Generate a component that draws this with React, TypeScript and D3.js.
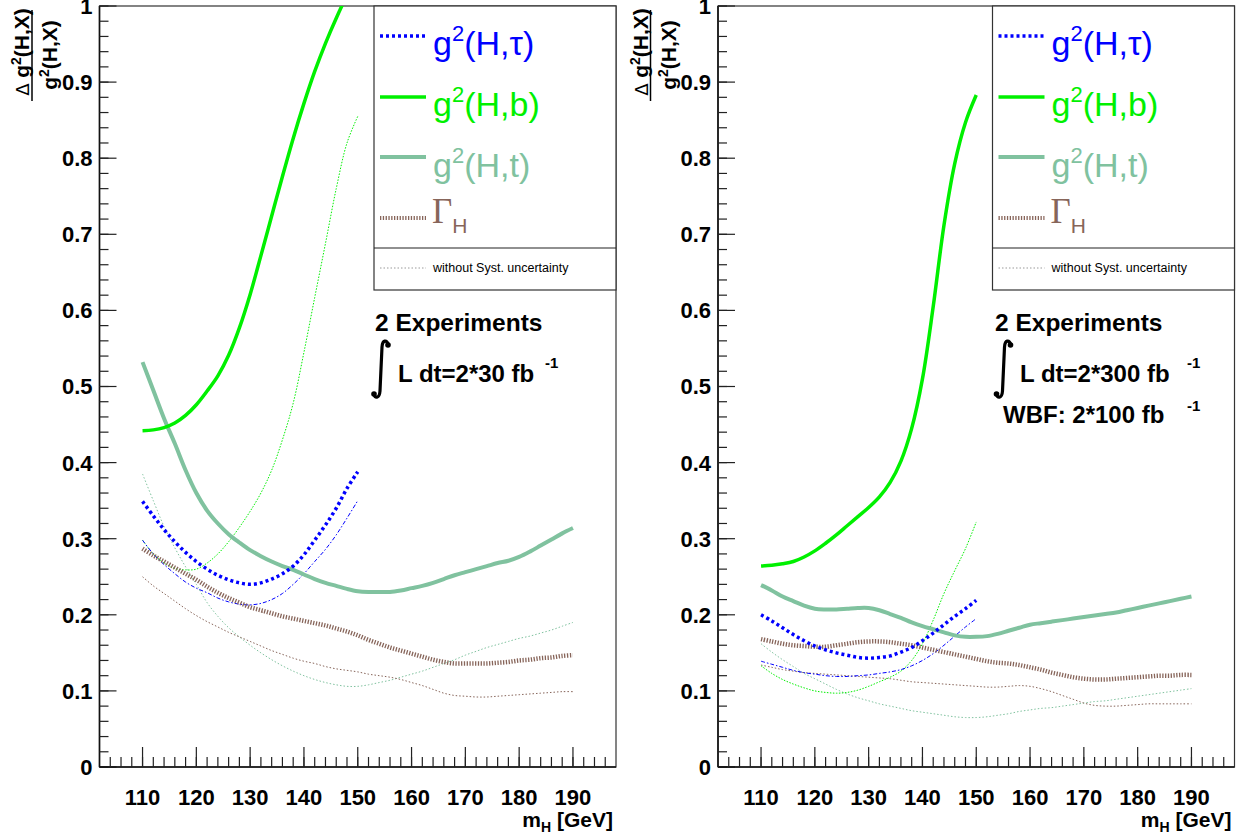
import React from "react";
import * as d3 from "d3";

// ---------- data ----------
const MASS_SHORT = [110, 112, 114, 116, 118, 120, 122, 124, 126, 128, 130, 132, 134, 136, 138, 140, 142, 144, 146, 148, 150];
const MASS_LONG = [110, 112, 114, 116, 118, 120, 122, 124, 126, 128, 130, 132, 134, 136, 138, 140, 142, 144, 146, 148, 150,
  152, 154, 156, 158, 160, 162, 164, 166, 168, 170, 172, 174, 176, 178, 180, 182, 184, 186, 188, 190];

// Left panel: 2 x 30 fb^-1
const L_TAU = [0.349, 0.33, 0.312, 0.296, 0.282, 0.27, 0.26, 0.252, 0.246, 0.242, 0.24, 0.242, 0.247, 0.254, 0.264, 0.279, 0.298, 0.318, 0.34, 0.366, 0.388];
const L_TAU_NOSYS = [0.298, 0.28, 0.266, 0.254, 0.243, 0.235, 0.229, 0.222, 0.217, 0.214, 0.213, 0.215, 0.22, 0.228, 0.24, 0.254, 0.27, 0.286, 0.305, 0.327, 0.35];
const L_B = [0.442, 0.443, 0.446, 0.452, 0.462, 0.476, 0.494, 0.514, 0.541, 0.577, 0.621, 0.672, 0.724, 0.776, 0.826, 0.872, 0.914, 0.951, 0.984, 1.014, 1.04];
const L_B_NOSYS = [0.298, 0.28, 0.268, 0.261, 0.259, 0.26, 0.268, 0.28, 0.296, 0.315, 0.336, 0.36, 0.39, 0.43, 0.478, 0.545, 0.617, 0.688, 0.76, 0.82, 0.855];
const L_T = [0.532, 0.495, 0.458, 0.425, 0.39, 0.36, 0.337, 0.32, 0.306, 0.295, 0.285, 0.277, 0.27, 0.264, 0.259, 0.253, 0.247, 0.242, 0.238, 0.234, 0.231,
  0.23, 0.23, 0.23, 0.232, 0.235, 0.238, 0.242, 0.247, 0.252, 0.256, 0.26, 0.264, 0.268, 0.271, 0.276, 0.283, 0.291, 0.299, 0.307, 0.314];
const L_T_NOSYS = [0.385, 0.35, 0.316, 0.288, 0.263, 0.24, 0.216, 0.198, 0.183, 0.171, 0.16, 0.15, 0.141, 0.133, 0.126, 0.12, 0.115, 0.111, 0.108, 0.106, 0.106,
  0.108, 0.111, 0.114, 0.118, 0.122, 0.126, 0.131, 0.136, 0.141, 0.147, 0.152, 0.157, 0.161, 0.165, 0.169, 0.172, 0.176, 0.18, 0.185, 0.19];
const L_GAMMA = [0.287, 0.278, 0.27, 0.262, 0.254, 0.246, 0.237, 0.229, 0.222, 0.216, 0.21, 0.206, 0.202, 0.198, 0.195, 0.192, 0.189, 0.186, 0.182, 0.178, 0.173,
  0.167, 0.162, 0.157, 0.153, 0.149, 0.145, 0.141, 0.138, 0.136, 0.136, 0.136, 0.136, 0.137, 0.138, 0.14, 0.141, 0.143, 0.144, 0.146, 0.147];
const L_GAMMA_NOSYS = [0.25, 0.238, 0.228, 0.218, 0.208, 0.199, 0.191, 0.184, 0.177, 0.171, 0.165, 0.159, 0.153, 0.148, 0.143, 0.139, 0.136, 0.132, 0.129, 0.127, 0.125,
  0.122, 0.12, 0.118, 0.115, 0.111, 0.107, 0.102, 0.097, 0.094, 0.093, 0.092, 0.092, 0.093, 0.094, 0.095, 0.096, 0.097, 0.098, 0.099, 0.099];

// Right panel: 2 x 300 fb^-1 (WBF 2 x 100 fb^-1)
const R_TAU = [0.2, 0.192, 0.183, 0.174, 0.166, 0.159, 0.154, 0.15, 0.147, 0.144, 0.143, 0.144, 0.146, 0.151, 0.157, 0.166, 0.176, 0.187, 0.198, 0.208, 0.219];
const R_TAU_NOSYS = [0.139, 0.135, 0.131, 0.127, 0.124, 0.122, 0.12, 0.119, 0.119, 0.12, 0.121, 0.123, 0.125, 0.128, 0.133, 0.14, 0.149, 0.16, 0.172, 0.184, 0.195];
const R_B = [0.264, 0.265, 0.267, 0.27, 0.276, 0.284, 0.294, 0.305, 0.317, 0.329, 0.341, 0.355, 0.374, 0.402, 0.445, 0.51, 0.605, 0.712, 0.793, 0.847, 0.883];
const R_B_NOSYS = [0.133, 0.123, 0.115, 0.109, 0.104, 0.1, 0.098, 0.097, 0.098, 0.101, 0.106, 0.112, 0.118, 0.126, 0.14, 0.162, 0.193, 0.228, 0.258, 0.287, 0.322];
const R_T = [0.239, 0.232, 0.224, 0.218, 0.212, 0.208, 0.207, 0.207, 0.208, 0.209, 0.209, 0.206, 0.201, 0.196, 0.19, 0.185, 0.181, 0.177, 0.173, 0.171, 0.171,
  0.172, 0.175, 0.179, 0.183, 0.187, 0.189, 0.191, 0.193, 0.195, 0.197, 0.199, 0.201, 0.203, 0.206, 0.209, 0.212, 0.215, 0.218, 0.221, 0.224];
const R_T_NOSYS = [0.162, 0.151, 0.141, 0.132, 0.123, 0.116, 0.109, 0.102, 0.096, 0.091, 0.087, 0.083, 0.08, 0.077, 0.074, 0.072, 0.07, 0.068, 0.066, 0.065, 0.065,
  0.066, 0.068, 0.07, 0.073, 0.075, 0.077, 0.078, 0.08, 0.082, 0.084, 0.086, 0.087, 0.089, 0.091, 0.093, 0.095, 0.097, 0.099, 0.101, 0.103];
const R_GAMMA = [0.168, 0.165, 0.162, 0.16, 0.159, 0.158, 0.158, 0.16, 0.162, 0.164, 0.165, 0.165, 0.164, 0.162, 0.16, 0.157, 0.154, 0.151, 0.148, 0.145, 0.142,
  0.139, 0.137, 0.136, 0.134, 0.131, 0.128, 0.124, 0.121, 0.118, 0.116, 0.115, 0.115, 0.116, 0.117, 0.118, 0.119, 0.12, 0.12, 0.121, 0.121];
const R_GAMMA_NOSYS = [0.134, 0.131, 0.128, 0.126, 0.124, 0.123, 0.122, 0.121, 0.12, 0.119, 0.118, 0.117, 0.116, 0.114, 0.112, 0.111, 0.11, 0.109, 0.108, 0.107, 0.106,
  0.105, 0.105, 0.106, 0.107, 0.106, 0.103, 0.099, 0.094, 0.089, 0.084, 0.081, 0.08, 0.08, 0.081, 0.082, 0.083, 0.083, 0.083, 0.083, 0.083];

const X_TICK_LABELS = [110, 120, 130, 140, 150, 160, 170, 180, 190];
const Y_TICK_LABELS = ["0", "0.1", "0.2", "0.3", "0.4", "0.5", "0.6", "0.7", "0.8", "0.9", "1"];

// ---------- style ----------
const BLUE = "#0000ff";
const GREEN = "#00f000";
const TEAL = "#80c29f";
const BROWN = "#87655a";
const SANS = "'Liberation Sans', Arial, Helvetica, sans-serif";
const SERIF = "'Liberation Serif', 'Times New Roman', serif";

const TOP = 6;
const BOTTOM = 767;
const PANEL_W = 516.5;

type Series = { mass: number[]; vals: number[]; color: string; width: number; dash?: string };

function Panel(props: { x0: number; id: string; series: Series[]; lumi: string[]; wbf?: boolean }) {
  const { x0, id, series } = props;
  const x1 = x0 + PANEL_W;
  const xs = d3.scaleLinear().domain([102, 198]).range([x0, x1]);
  const ys = d3.scaleLinear().domain([0, 1]).range([BOTTOM, TOP]);
  const line = d3
    .line<[number, number]>()
    .x((d) => xs(d[0]))
    .y((d) => ys(d[1]))
    .curve(d3.curveCatmullRom.alpha(0.5));

  const yMinor = d3.range(0, 1.0001, 0.02);
  const yMajor = d3.range(0, 1.0001, 0.1);
  const xMinor = d3.range(104, 197, 2);
  const off = x0 - 99.5;

  // legend geometry
  const lx = x0 + 274.5;
  const lineX0 = lx + 6;
  const lineX1 = lx + 52;
  const textX = lx + 59;
  const legendRows = [36, 97, 157, 218];

  const integral = (ix: number, iy: number) => (
    <g>
      <path
        d={`M ${ix + 13} ${iy + 4} C ${ix + 11} ${iy - 2}, ${ix + 7} ${iy - 1}, ${ix + 6.5} ${iy + 6} L ${ix + 4.5} ${iy + 50} C ${ix + 4} ${iy + 57}, ${ix} ${iy + 58}, ${ix - 2} ${iy + 53}`}
        fill="none"
        stroke="#000"
        strokeWidth={3.2}
      />
      <circle cx={ix + 12.5} cy={iy + 4} r={2.8} fill="#000" />
      <circle cx={ix - 1.5} cy={iy + 53} r={2.8} fill="#000" />
    </g>
  );

  return (
    <g>
      <defs>
        <clipPath id={`clip-${id}`}>
          <rect x={x0} y={TOP} width={PANEL_W} height={BOTTOM - TOP} />
        </clipPath>
      </defs>
      {/* frame */}
      <rect x={x0} y={TOP} width={PANEL_W} height={BOTTOM - TOP} fill="none" stroke="#333" strokeWidth={1.2} />
      {/* curves */}
      <g clipPath={`url(#clip-${id})`}>
        {series.map((s, i) => (
          <path
            key={i}
            d={line(s.mass.map((m, j) => [m, s.vals[j]] as [number, number])) || ""}
            fill="none"
            stroke={s.color}
            strokeWidth={s.width}
            strokeDasharray={s.dash}
            strokeLinecap="butt"
          />
        ))}
      </g>
      {/* y axis */}
      <line x1={x0} x2={x0} y1={TOP} y2={BOTTOM} stroke="#111" strokeWidth={1.6} />
      {yMinor.map((v, i) => (
        <line key={"ym" + i} x1={x0} x2={x0 + 9} y1={ys(v)} y2={ys(v)} stroke="#222" strokeWidth={1.2} />
      ))}
      {yMajor.map((v, i) => (
        <line key={"yM" + i} x1={x0} x2={x0 + 17} y1={ys(v)} y2={ys(v)} stroke="#222" strokeWidth={1.2} />
      ))}
      {Y_TICK_LABELS.map((t, i) => (
        <text key={"yl" + i} x={x0 - 7} y={ys(yMajor[i])} dy="0.36em" textAnchor="end" fontFamily={SANS} fontWeight="bold" fontSize={22} fill="#000">
          {t}
        </text>
      ))}
      {/* x axis */}
      <line x1={x0} x2={x1} y1={BOTTOM} y2={BOTTOM} stroke="#111" strokeWidth={1.6} />
      {xMinor.map((m, i) => (
        <line key={"xm" + i} x1={xs(m)} x2={xs(m)} y1={BOTTOM} y2={BOTTOM - 10} stroke="#222" strokeWidth={1.2} />
      ))}
      {X_TICK_LABELS.map((m, i) => (
        <g key={"xl" + i}>
          <line x1={xs(m)} x2={xs(m)} y1={BOTTOM} y2={BOTTOM - 20} stroke="#222" strokeWidth={1.2} />
          <text x={xs(m)} y={805} textAnchor="middle" fontFamily={SANS} fontWeight="bold" fontSize={22} fill="#000">
            {m}
          </text>
        </g>
      ))}
      <text x={x1 - 3} y={827} textAnchor="end" fontFamily={SANS} fontWeight="bold" fontSize={21} fill="#000">
        m<tspan dy={5} fontSize={14}>H</tspan>
        <tspan dy={-5}> [GeV]</tspan>
      </text>
      {/* y title: fraction */}
      <text transform={`translate(${29 + off},52) rotate(-90)`} textAnchor="middle" fontFamily={SANS} fontWeight="bold" fontSize={21} fill="#000">
        <tspan fontWeight="normal" fontFamily="'DejaVu Sans', sans-serif" fontSize={18}>Δ </tspan>
        <tspan>g</tspan>
        <tspan dy={-8} fontSize={14}>2</tspan>
        <tspan dy={8}>(H,X)</tspan>
      </text>
      <line x1={32 + off} x2={32 + off} y1={10} y2={101} stroke="#000" strokeWidth={1.5} />
      <text transform={`translate(${57 + off},55) rotate(-90)`} textAnchor="middle" fontFamily={SANS} fontWeight="bold" fontSize={21} fill="#000">
        <tspan>g</tspan>
        <tspan dy={-8} fontSize={14}>2</tspan>
        <tspan dy={8}>(H,X)</tspan>
      </text>
      {/* legend */}
      <rect x={lx} y={TOP} width={x1 - lx} height={284} fill="#fff" stroke="#333" strokeWidth={1.2} />
      <line x1={lx} x2={x1} y1={248} y2={248} stroke="#222" strokeWidth={1.2} />
      <line x1={lineX0} x2={lineX1} y1={legendRows[0]} y2={legendRows[0]} stroke={BLUE} strokeWidth={3.5} strokeDasharray="3 3" />
      <line x1={lineX0} x2={lineX1} y1={legendRows[1]} y2={legendRows[1]} stroke={GREEN} strokeWidth={3.5} />
      <line x1={lineX0} x2={lineX1} y1={legendRows[2]} y2={legendRows[2]} stroke={TEAL} strokeWidth={4} />
      <line x1={lineX0} x2={lineX1} y1={legendRows[3]} y2={legendRows[3]} stroke={BROWN} strokeWidth={4} strokeDasharray="1.3 1.5" />
      <line x1={lineX0} x2={lineX1} y1={268} y2={268} stroke="#999" strokeWidth={1} strokeDasharray="1.5 2" />
      <text x={textX} y={55} fontFamily={SANS} fontSize={34} fill={BLUE}>
        g<tspan dy={-14} fontSize={22}>2</tspan>
        <tspan dy={14}>(H,τ)</tspan>
      </text>
      <text x={textX} y={116} fontFamily={SANS} fontSize={34} fill={GREEN}>
        g<tspan dy={-14} fontSize={22}>2</tspan>
        <tspan dy={14}>(H,b)</tspan>
      </text>
      <text x={textX} y={177} fontFamily={SANS} fontSize={34} fill={TEAL}>
        g<tspan dy={-14} fontSize={22}>2</tspan>
        <tspan dy={14}>(H,t)</tspan>
      </text>
      <text x={textX - 1} y={223} fontFamily={SERIF} fontSize={35} fill={BROWN}>
        Γ<tspan dy={10} fontFamily={SANS} fontSize={21}>H</tspan>
      </text>
      <text x={textX} y={272} fontFamily={SANS} fontSize={12.5} fill="#000">
        without Syst. uncertainty
      </text>
      {/* annotation */}
      <text x={props.wbf ? 995 : 375} y={331} fontFamily={SANS} fontWeight="bold" fontSize={24.5} fill="#000">
        2 Experiments
      </text>
      {integral(props.wbf ? 998 : 375.5, 341)}
      <text x={props.wbf ? 1020 : 398} y={382} fontFamily={SANS} fontWeight="bold" fontSize={24} fill="#000">
        {props.lumi[0]}
      </text>
      <text x={props.wbf ? 1187 : 545} y={368} fontFamily={SANS} fontWeight="bold" fontSize={15} fill="#000">
        -1
      </text>
      {props.wbf && (
        <g>
          <text x={1003} y={423} fontFamily={SANS} fontWeight="bold" fontSize={24} fill="#000">
            {props.lumi[1]}
          </text>
          <text x={1187} y={411} fontFamily={SANS} fontWeight="bold" fontSize={15} fill="#000">
            -1
          </text>
        </g>
      )}
    </g>
  );
}

function seriesFor(tau: number[], tauN: number[], b: number[], bN: number[], t: number[], tN: number[], g: number[], gN: number[]): Series[] {
  return [
    { mass: MASS_LONG, vals: tN, color: TEAL, width: 1, dash: "1.5 2" },
    { mass: MASS_LONG, vals: gN, color: BROWN, width: 1, dash: "1.5 2" },
    { mass: MASS_SHORT, vals: bN, color: GREEN, width: 1, dash: "1.5 1.5" },
    { mass: MASS_SHORT, vals: tauN, color: BLUE, width: 1, dash: "4 2 1.5 2" },
    { mass: MASS_LONG, vals: g, color: BROWN, width: 4.5, dash: "1.3 1.5" },
    { mass: MASS_LONG, vals: t, color: TEAL, width: 4 },
    { mass: MASS_SHORT, vals: b, color: GREEN, width: 3.5 },
    { mass: MASS_SHORT, vals: tau, color: BLUE, width: 3.5, dash: "3 3" },
  ];
}

export default function App() {
  const left = seriesFor(L_TAU, L_TAU_NOSYS, L_B, L_B_NOSYS, L_T, L_T_NOSYS, L_GAMMA, L_GAMMA_NOSYS);
  const right = seriesFor(R_TAU, R_TAU_NOSYS, R_B, R_B_NOSYS, R_T, R_T_NOSYS, R_GAMMA, R_GAMMA_NOSYS);
  return (
    <svg width={1243} height={834} style={{ position: "absolute", left: 0, top: 0, background: "#fff" }}>
      <rect x={0} y={0} width={1243} height={834} fill="#fff" />
      <Panel x0={99.5} id="l" series={left} lumi={["L dt=2*30 fb"]} />
      <Panel x0={718} id="r" series={right} lumi={["L dt=2*300 fb", "WBF: 2*100 fb"]} wbf />
    </svg>
  );
}
